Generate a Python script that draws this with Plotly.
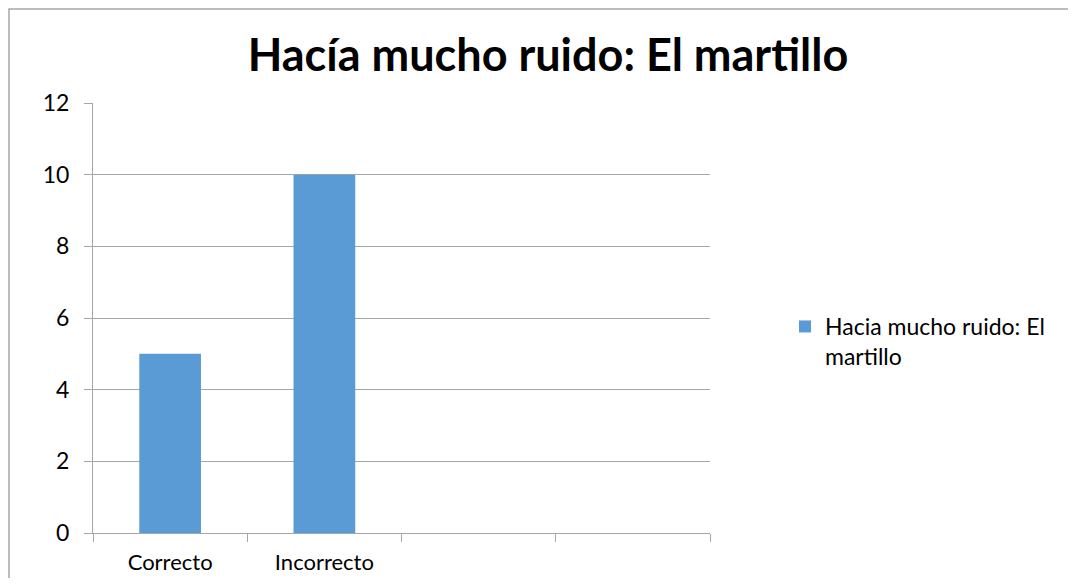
import plotly.graph_objects as go

categories = ["Correcto", "Incorrecto", " ", "  "]
bar_categories = ["Correcto", "Incorrecto"]
values = [5, 10]
series_name = "Hacia mucho ruido: El<br>martillo"
title_text = "Hacía mucho ruido: El martillo"
y_ticks = [0, 2, 4, 6, 8, 10, 12]

FONT = "Lato, 'Open Sans', sans-serif"
OFF = 8  # page body margin

# target plot area in screenshot pixels
X0, X1, Y0, Y1 = 93, 710, 103, 533
W, H = 1060, 570
L, T = X0 - OFF, Y0 - OFF
pw, ph = X1 - X0, Y1 - Y0
R, B = W - L - pw, H - T - ph

def px(xs):
    return (xs - X0) / pw

def py(ys):
    return (Y1 - ys) / ph

fig = go.Figure()
fig.add_trace(go.Bar(
    x=bar_categories, y=values, name=series_name,
    marker=dict(color="#5b9bd5", line=dict(width=0)),
    width=0.4, showlegend=True,
))

fig.add_shape(type="rect", xref="paper", yref="paper",
              x0=px(OFF + 1), x1=px(1100), y0=py(620), y1=py(OFF + 1),
              line=dict(color="#a6a6a6", width=1.5), fillcolor="rgba(0,0,0,0)", layer="below")

fig.update_layout(
    width=W, height=H,
    margin=dict(l=L, r=R, t=T, b=B, autoexpand=False),
    paper_bgcolor="white", plot_bgcolor="white",
    font=dict(family=FONT, size=23, color="#000000"),
    title=dict(text="<b>" + title_text + "</b>", x=px(548), xanchor="center", xref="paper",
               y=1 - (55 - OFF) / H, yanchor="middle", font=dict(size=45, family=FONT)),
    showlegend=True,
    legend=dict(x=px(785), y=py(305), xanchor="left", yanchor="top", valign="top",
                font=dict(size=23), bgcolor="rgba(0,0,0,0)", itemwidth=30),
)
fig.update_xaxes(
    type="category", categoryorder="array", categoryarray=categories,
    range=[-0.5, 3.5], tickson="boundaries", ticks="outside", ticklen=8,
    tickcolor="#a6a6a6", showline=True, linecolor="#a6a6a6", linewidth=1,
    showgrid=False, tickfont=dict(size=22), fixedrange=True, ticklabelstandoff=10,
    automargin=False,
)
fig.update_yaxes(
    range=[0, 12], tickvals=y_ticks, ticks="outside", ticklen=8,
    tickcolor="#a6a6a6", showline=True, linecolor="#a6a6a6", linewidth=1,
    showgrid=True, gridcolor="#a6a6a6", gridwidth=1, zeroline=False,
    tickfont=dict(size=23), ticklabelstandoff=10, automargin=False,
)

fig.write_html("out.html")
